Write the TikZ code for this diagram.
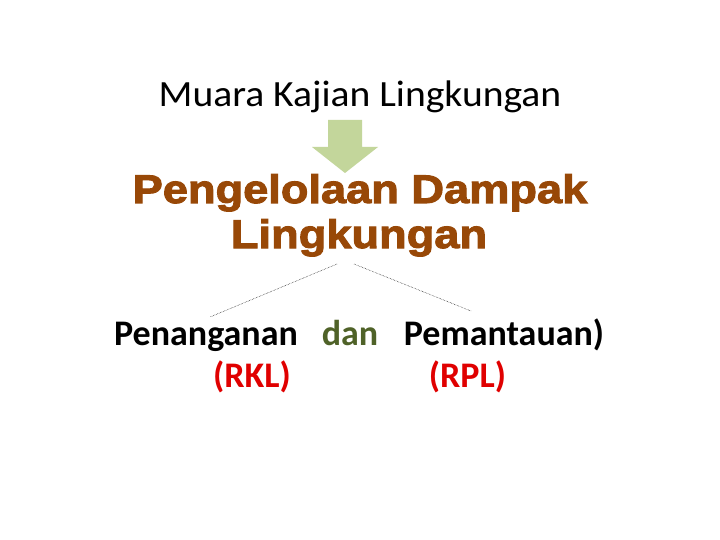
\documentclass[tikz,border=0pt]{standalone}
\usepackage{fontspec}
\setmainfont{Carlito}
\newfontfamily\titlefont[FakeStretch=1.07]{Carlito}
\newfontfamily\heavyfont[FakeBold=2.5,FakeStretch=1.13]{Liberation Sans Bold}
\definecolor{brownT}{HTML}{984807}
\definecolor{oliveT}{HTML}{4F6228}
\definecolor{redT}{HTML}{E00000}
\definecolor{arrowG}{HTML}{C3D69B}
\tikzset{
  titletext/.style={anchor=base, inner sep=0pt, font=\titlefont\fontsize{37}{44}\selectfont},
  heavytext/.style={anchor=base, inner sep=0pt, text=brownT, font=\heavyfont\fontsize{40}{48}\selectfont},
  itemtext/.style={anchor=base, inner sep=0pt, font=\bfseries\fontsize{36}{42}\selectfont},
  codetext/.style={itemtext, text=redT},
  link/.style={draw=black, densely dotted, line width=0.5pt},
}
\begin{document}
\begin{tikzpicture}[x=1pt,y=-1pt]
\useasboundingbox[fill=white] (0,0) rectangle (720,540);
\node[titletext] (title) at (360,107) {Muara Kajian Lingkungan};
\fill[arrowG] (328,120) -- (362,120) -- (362,147) -- (378,147) -- (345,173) -- (312,147) -- (328,147) -- cycle;
\node[heavytext] (pdl1) at (360,203) {Pengelolaan Dampak};
\node[heavytext] (pdl2) at (359,248) {Lingkungan};
\node[itemtext] (pen) at (206,345) {Penanganan};
\node[itemtext, text=oliveT] (dan) at (350,345) {dan};
\node[itemtext] (pem) at (504,345) {Pemantauan)};
\node[codetext] (rkl) at (252,387) {(RKL)};
\node[codetext] (rpl) at (467.5,387) {(RPL)};
\coordinate (ls) at (337,264);
\coordinate (le) at (210,317);
\coordinate (rs) at (354,264);
\coordinate (re) at (471,311);
\draw[link] (ls) -- (le);
\draw[link] (rs) -- (re);
\end{tikzpicture}
\end{document}
